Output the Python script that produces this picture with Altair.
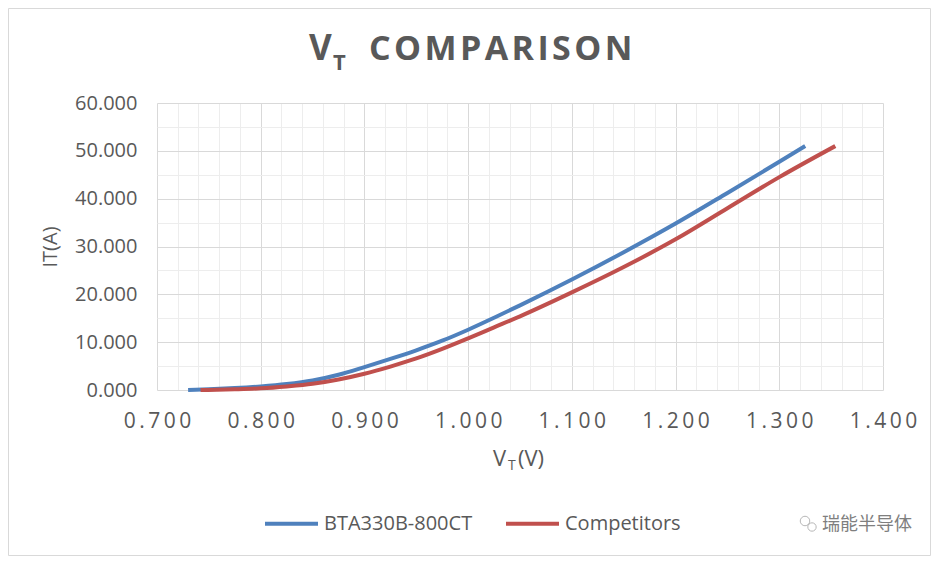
import altair as alt
import pandas as pd

# ---- data ----
bta_v = [0.730, 0.750, 0.775, 0.800, 0.825, 0.850, 0.875, 0.900, 0.925, 0.950,
         0.975, 1.000, 1.025, 1.050, 1.100, 1.150, 1.200, 1.250, 1.300, 1.325]
bta_i = [0.0, 0.15, 0.4, 0.75, 1.25, 2.0, 3.2, 4.8, 6.5, 8.3,
         10.3, 12.6, 15.1, 17.7, 23.1, 28.8, 34.8, 41.2, 47.7, 51.0]
comp_v = [0.742, 0.775, 0.800, 0.825, 0.850, 0.875, 0.900, 0.925, 0.950, 0.975,
          1.000, 1.025, 1.050, 1.100, 1.150, 1.200, 1.250, 1.300, 1.354]
comp_i = [0.0, 0.15, 0.35, 0.75, 1.3, 2.2, 3.4, 4.9, 6.6, 8.6,
          10.8, 13.1, 15.4, 20.4, 25.7, 31.5, 38.0, 44.5, 51.0]
series_names = ["BTA330B-800CT", "Competitors"]
series_colors = ["#4F81BD", "#C0504D"]

x_grid = [round(0.70 + 0.02 * k, 2) for k in range(36)]
y_grid = list(range(0, 61, 5))

df = pd.concat([
    pd.DataFrame({"V": bta_v, "I": bta_i, "s": series_names[0], "o": range(len(bta_v))}),
    pd.DataFrame({"V": comp_v, "I": comp_i, "s": series_names[1], "o": range(len(comp_v))}),
])

TXT = "#595959"
FONT = "Open Sans"
W, H = 726, 287
HAIR = "\u200a"
THIN = "\u2009"

x_major = "abs(datum.value*10 - round(datum.value*10)) < 0.001"
y_major = "datum.value % 10 == 0"

lines = alt.Chart(df).mark_line(strokeWidth=4, interpolate="monotone").encode(
    x=alt.X("V:Q", scale=alt.Scale(domain=[0.7, 1.4], nice=False, zero=False),
            axis=alt.Axis(values=x_grid, title=None, ticks=False, domain=False,
                          gridColor={"condition": {"test": x_major, "value": "#d9d9d9"}, "value": "#ededed"},
                          labelExpr=f"({x_major}) ? join(split(format(datum.value, '.3f'), ''), '{THIN}') : ''",
                          labelFont=FONT, labelFontSize=21, labelColor=TXT, labelPadding=20,
                          labelFlush=False, labelOverlap=False)),
    y=alt.Y("I:Q", scale=alt.Scale(domain=[0, 60], nice=False),
            axis=alt.Axis(values=y_grid, title="IT(A)", ticks=False, domain=False,
                          gridColor={"condition": {"test": y_major, "value": "#d9d9d9"}, "value": "#ededed"},
                          labelExpr=f"({y_major}) ? format(datum.value, '.3f') : ''",
                          labelFont=FONT, labelFontSize=20, labelColor=TXT, labelPadding=20,
                          labelFlush=False,
                          titleFont=FONT, titleFontSize=20, titleFontWeight="normal",
                          titleColor=TXT, titlePadding=14, labelOverlap=False)),
    color=alt.Color("s:N", scale=alt.Scale(domain=series_names, range=series_colors),
                    legend=alt.Legend(orient="none", legendX=106, legendY=392, direction="horizontal",
                                      title=None, symbolType="stroke", symbolSize=2809,
                                      symbolStrokeWidth=4, labelFont=FONT, labelFontSize=20,
                                      labelColor=TXT, columnPadding=25, labelOffset=4)),
    order="o:Q",
)

one = pd.DataFrame({"k": [0]})

def txt(t, x, y, size, bold=False, color=TXT, font=FONT):
    return alt.Chart(one).mark_text(text=t, align="left", baseline="alphabetic",
                                    font=font, fontSize=size,
                                    fontWeight="bold" if bold else "normal",
                                    color=color).encode(x=alt.value(x), y=alt.value(y))

title_parts = [
    txt("V", 152, -43, 35, True),
    txt("T", 176, -33, 22, True),
    txt(HAIR.join("COMPARISON"), 212, -43, 34, True),
]
xtitle_parts = [
    txt("V", 336, 363, 22),
    txt("T", 351, 367, 14),
    txt("(V)", 361, 363, 22),
]
watermark = [
    txt("瑞能半导体", 665, 427, 18, color="#7f7f7f", font="Noto Sans CJK SC"),
    alt.Chart(one).mark_point(shape="circle", filled=False, size=90, color="#9a9a9a", strokeWidth=1).encode(
        x=alt.value(648), y=alt.value(418)),
    alt.Chart(one).mark_point(shape="circle", filled=False, size=70, color="#9a9a9a", strokeWidth=1).encode(
        x=alt.value(655), y=alt.value(424)),
]
border = alt.Chart(one).mark_rect(fill=None, stroke="#d9d9d9", strokeWidth=1).encode(
    x=alt.value(-148.5), x2=alt.value(W + 47.5), y=alt.value(-94.5), y2=alt.value(H + 165.5))

chart = alt.layer(border, lines, *title_parts, *xtitle_parts, *watermark).properties(
    width=W, height=H,
    autosize=alt.AutoSizeParams(type="none"),
    padding={"left": 149, "top": 95, "right": 49, "bottom": 166},
    background="white",
).configure_view(strokeWidth=0)

chart.save("out.html", embed_options={"renderer": "svg", "actions": False})
